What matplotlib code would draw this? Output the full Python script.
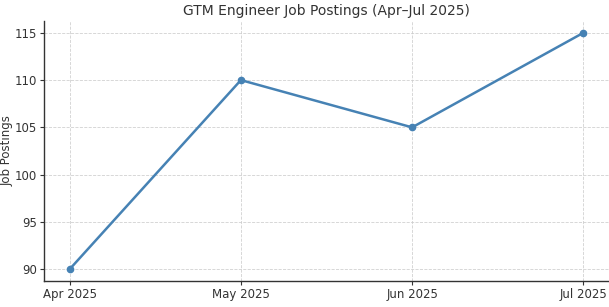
import matplotlib
matplotlib.use("Agg")
import matplotlib.pyplot as plt

months = ["Apr 2025", "May 2025", "Jun 2025", "Jul 2025"]
postings = [90, 110, 105, 115]

fig = plt.figure(figsize=(6.09, 3.07), dpi=100)
ax = fig.add_axes([44 / 609, 26 / 307, (609 - 44) / 609, (281 - 21) / 307])

x = list(range(len(months)))
ax.plot(x, postings, color="#4682b4", linewidth=1.8, marker="o", markersize=4.5)

ax.set_xticks(x)
ax.set_xticklabels(months)
ax.set_yticks([90, 95, 100, 105, 110, 115])
ax.set_ylabel("Job Postings", fontsize=8.5, color="#333333")
# label anchor is its right edge once rotated
ax.yaxis.set_label_coords(-0.053, 0.5)

ax.set_title("GTM Engineer Job Postings (Apr\u2013Jul 2025)", fontsize=10.0,
             color="#333333", pad=4)

ax.grid(True, linestyle="--", linewidth=0.6, color="#cccccc", alpha=0.9)
ax.spines["top"].set_visible(False)
ax.spines["right"].set_visible(False)
for s in ("left", "bottom"):
    ax.spines[s].set_color("#333333")
    ax.spines[s].set_linewidth(1.0)
ax.tick_params(labelsize=8.5, colors="#333333", length=3, pad=2)

fig.savefig("out.png", dpi=100)
